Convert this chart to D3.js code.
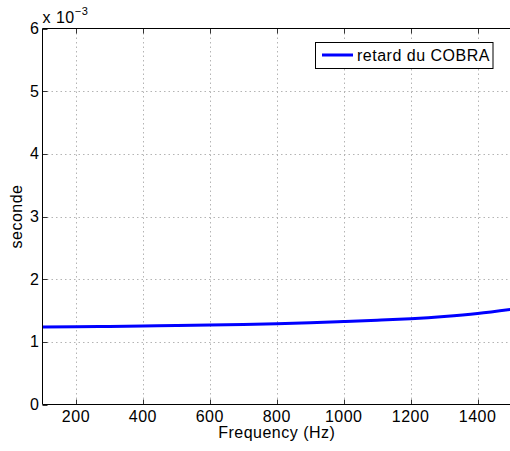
<!DOCTYPE html>
<html><head><meta charset="utf-8">
<script src="https://cdn.jsdelivr.net/npm/d3@7"></script>
<style>body{margin:0;background:#fff}svg{display:block}text{font-family:"Liberation Sans",Arial,Helvetica,sans-serif;letter-spacing:0.5px}</style>
</head><body>
<script>
const freq = [100,200,300,400,500,600,700,800,900,1000,1100,1200,1300,1400,1500];
const delay = [1.235,1.240,1.246,1.252,1.259,1.267,1.277,1.290,1.306,1.325,1.345,1.370,1.405,1.452,1.518];
const xTicks = [200,400,600,800,1000,1200,1400];
const yTicks = [0,1,2,3,4,5,6];
const seriesName = "retard du COBRA";
const W=510,H=451;
const m={l:42.5,t:28.5,r:511,b:404.5};
const fs=16;
const svg=d3.select("body").append("svg").attr("width",W).attr("height",H);
const x=d3.scaleLinear().domain([100,1500]).range([m.l,m.r]);
const y=d3.scaleLinear().domain([0,6]).range([m.b,m.t]);
// grid
const g=svg.append("g");
g.selectAll("line.vx").data(xTicks).enter().append("line")
 .attr("x1",d=>Math.round(x(d))+0.5).attr("x2",d=>Math.round(x(d))+0.5).attr("y1",m.t).attr("y2",m.b)
 .attr("stroke","#b4b4b4").attr("stroke-dasharray","1.5,3");
g.selectAll("line.hy").data(yTicks.filter(d=>d>0&&d<6)).enter().append("line")
 .attr("y1",d=>Math.round(y(d))+0.5).attr("y2",d=>Math.round(y(d))+0.5).attr("x1",m.l).attr("x2",m.r)
 .attr("stroke","#b4b4b4").attr("stroke-dasharray","1.5,3");
// ticks inside
const tl=5;
xTicks.forEach(d=>{const xx=Math.round(x(d))+0.5;
 svg.append("line").attr("x1",xx).attr("x2",xx).attr("y1",m.b).attr("y2",m.b-tl).attr("stroke","#333");
 svg.append("line").attr("x1",xx).attr("x2",xx).attr("y1",m.t).attr("y2",m.t+tl).attr("stroke","#333");});
yTicks.forEach(d=>{const yy=Math.round(y(d))+0.5;
 svg.append("line").attr("y1",yy).attr("y2",yy).attr("x1",m.l).attr("x2",m.l+tl).attr("stroke","#333");});
// curve
svg.append("path").datum(freq.map((f,i)=>[f,delay[i]]))
 .attr("d",d3.line().x(d=>x(d[0])).y(d=>y(d[1])).curve(d3.curveMonotoneX))
 .attr("fill","none").attr("stroke","#0000ff").attr("stroke-width",3);
// axes box
svg.append("line").attr("x1",m.l).attr("x2",m.l).attr("y1",m.t).attr("y2",m.b).attr("stroke","#000");
svg.append("line").attr("x1",m.l).attr("x2",m.r).attr("y1",m.b).attr("y2",m.b).attr("stroke","#000");
svg.append("line").attr("x1",m.l).attr("x2",m.r).attr("y1",m.t).attr("y2",m.t).attr("stroke","#000");
// tick labels
svg.selectAll("text.xt").data(xTicks).enter().append("text")
 .attr("x",d=>x(d)).attr("y",m.b+17).attr("text-anchor","middle").attr("font-size",fs).text(d=>d);
svg.selectAll("text.yt").data(yTicks).enter().append("text")
 .attr("x",m.l-3).attr("y",d=>y(d)+5.5).attr("text-anchor","end").attr("font-size",fs).text(d=>d);
// exponent
const ex=svg.append("text").attr("x",m.l).attr("y",23).attr("font-size",fs);
ex.append("tspan").text("x 10");
ex.append("tspan").attr("dy",-8).attr("font-size",11).text("\u22123");
// axis labels
svg.append("text").attr("x",(m.l+m.r)/2).attr("y",438).attr("text-anchor","middle").attr("font-size",fs).text("Frequency (Hz)");
svg.append("text").attr("transform",`translate(21.5,${(m.t+m.b)/2}) rotate(-90)`).attr("text-anchor","middle").attr("font-size",fs).text("seconde");
// legend
svg.append("rect").attr("x",315.5).attr("y",42.5).attr("width",177.5).attr("height",26).attr("fill","#fff").attr("stroke","#000");
svg.append("line").attr("x1",322).attr("x2",353).attr("y1",55).attr("y2",55).attr("stroke","#0000ff").attr("stroke-width",3);
svg.append("text").attr("x",357).attr("y",61).attr("font-size",fs).text(seriesName);
</script>
</body></html>
